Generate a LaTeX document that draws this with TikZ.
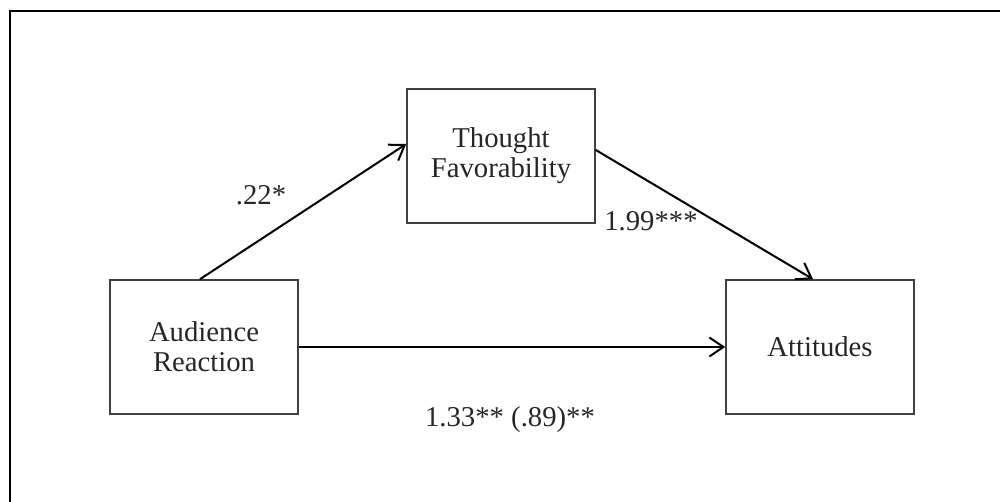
\documentclass[tikz,border=0pt]{standalone}
\usepackage{fontspec}
\setmainfont{Liberation Serif}
\usetikzlibrary{arrows.meta}
\definecolor{boxgray}{HTML}{404040}
\begin{document}
\begin{tikzpicture}[x=1pt,y=-1pt,
  varbox/.style={draw=boxgray,line width=1.6pt,minimum width=188pt,minimum height=134pt,
    align=center,inner sep=0pt,font=\fontsize{28.7}{30}\selectfont,text=black!85},
  pathlabel/.style={font=\fontsize{28.7}{30}\selectfont,text=black!85,inner sep=0pt},
  conn/.style={line width=2pt,-{Straight Barb[length=14pt,width=19pt,line width=2pt]}}]
\useasboundingbox (0,0) rectangle (1000,502);
\draw[line width=2.5pt] (10,502) -- (10,11) -- (1000,11);
\node[varbox] (aud) at (204,347) {Audience\\Reaction};
\node[varbox] (tf) at (501,156) {Thought\\Favorability};
\node[varbox] (att) at (820,347) {Attitudes};
\draw[conn] ([xshift=-4pt]aud.north) -- ([yshift=12pt]tf.west);
\draw[conn] ([yshift=6pt]tf.east) -- ([xshift=-7pt]att.north);
\draw[conn] (aud.east) -- (att.west);
\node[pathlabel] (l1) at (261,195) {.22*};
\node[pathlabel] (l2) at (651,221) {1.99***};
\node[pathlabel] (l3) at (510,420) {1.33** (.89)**};
\end{tikzpicture}
\end{document}
